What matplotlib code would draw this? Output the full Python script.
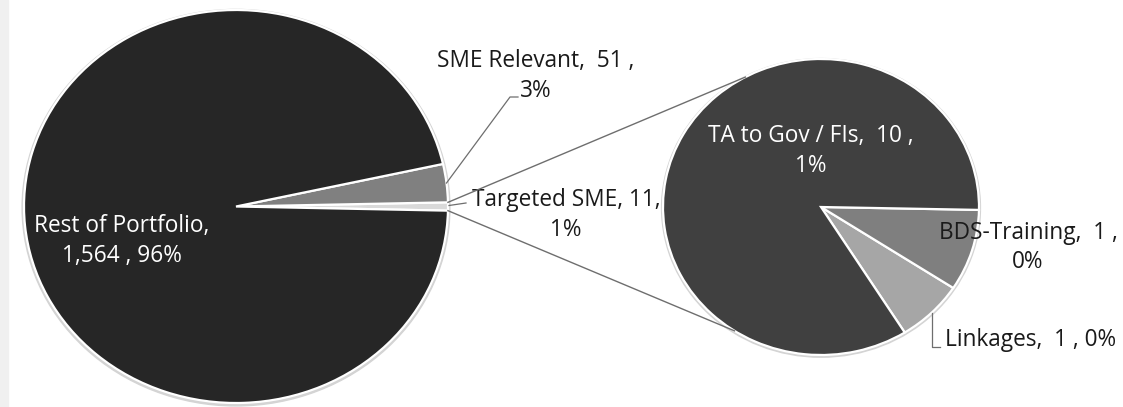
import numpy as np
import matplotlib
matplotlib.use("Agg")
import matplotlib.pyplot as plt
from matplotlib.patches import Ellipse, Rectangle

# ---- data ----
main_labels = ["Targeted SME", "SME Relevant", "Rest of Portfolio"]
main_values = [11, 51, 1564]
main_pct = ["1%", "3%", "96%"]
main_colors = ["#d9d9d9", "#808080", "#262626"]

sub_labels = ["Linkages", "BDS-Training", "TA to Gov / FIs"]
sub_values = [1, 1, 10]           # values shown in labels
sub_shares = [6.9, 8.9, 84.2]     # wedge shares (%)
sub_pct = ["0%", "0%", "1%"]
sub_colors = ["#a6a6a6", "#7f7f7f", "#404040"]

W, H = 1123, 407
fig = plt.figure(figsize=(W / 100, H / 100), dpi=100)
fig.patch.set_facecolor("white")
plt.rcParams["font.family"] = ["Open Sans", "DejaVu Sans"]

# pie geometry in pixels (center x, center y from top, rx, ry)
L = dict(cx=236, cy=206.5, rx=212, ry=196.5)
R = dict(cx=821, cy=207, rx=158, ry=148)


def pie(ax, sizes, colors, start):
    ax.add_patch(Ellipse((0.0, -0.006), 2.018, 2.018, color="#d4d4d4", zorder=0))
    ax.pie(sizes, colors=colors, startangle=start, counterclock=True,
           radius=1.0, wedgeprops=dict(edgecolor="white", linewidth=1.6))
    ax.set_aspect("auto")
    ax.set_xlim(-1.02, 1.02)
    ax.set_ylim(-1.02, 1.02)
    ax.axis("off")


def make_ax_pad(g, z, pad=1.02):
    ax = fig.add_axes([(g["cx"] - pad * g["rx"]) / W, (H - g["cy"] - pad * g["ry"]) / H,
                       2 * pad * g["rx"] / W, 2 * pad * g["ry"] / H], zorder=z)
    return ax


axL = make_ax_pad(L, 1)
tot = sum(main_values)
startL = -main_values[0] / tot * 360 / 2
pie(axL, main_values, main_colors, startL)

axR = make_ax_pad(R, 1)
pie(axR, sub_shares, sub_colors, -58.0)

# overlay in pixel coordinates
ov = fig.add_axes([0, 0, 1, 1], zorder=5)
ov.set_xlim(0, W)
ov.set_ylim(H, 0)
ov.axis("off")
ov.patch.set_alpha(0)
ov.add_patch(Rectangle((0, 0), 8, H, color="#f0f0f0", zorder=0))


def pt(g, ang, r=1.0):
    a = np.deg2rad(ang)
    return g["cx"] + r * g["rx"] * np.cos(a), g["cy"] - r * g["ry"] * np.sin(a)


# connector lines between pies
half = main_values[0] / tot * 360 / 2
for a1, a2 in [(half, 118.6), (-half, 236.8)]:
    x1, y1 = pt(L, a1)
    x2, y2 = pt(R, a2)
    ov.plot([x1, x2], [y1, y2], color="#6e6e6e", lw=1.0, zorder=6)

lc = "#6e6e6e"
fs = 16.3
ls = 1.33
tc = "#1a1a1a"
# SME Relevant label + leader
angS = startL + (main_values[0] + main_values[1] / 2) / tot * 360
x0, y0 = pt(L, angS)
ov.plot([x0, 510, 518], [y0, 97, 97], color=lc, lw=0.9)
ov.text(536, 76, f"SME Relevant,  {main_values[1]} ,\n{main_pct[1]}", ha="center",
        va="center", fontsize=fs, color=tc, linespacing=ls)
# Targeted SME
x0, y0 = pt(L, 0)
ov.plot([x0 + 1, 466], [y0 - 1, 203], color=lc, lw=0.9)
ov.text(566, 215, f"Targeted SME, {main_values[0]},\n{main_pct[0]}", ha="center",
        va="center", fontsize=fs, color=tc, linespacing=ls)
# Rest of Portfolio
ov.text(122, 241, f"Rest of Portfolio,\n{main_values[2]:,} , {main_pct[2]}", ha="center",
        va="center", fontsize=fs, color="white", linespacing=ls)
# TA
ov.text(811, 151, f"{sub_labels[2]},  {sub_values[2]} ,\n{sub_pct[2]}", ha="center",
        va="center", fontsize=fs, color="white", linespacing=ls)
# BDS
ov.text(1028, 247.5, f"{sub_labels[1]},  {sub_values[1]} ,\n{sub_pct[1]}", ha="center",
        va="center", fontsize=fs, color=tc, linespacing=ls)
# Linkages
angK = -58.0 + sub_shares[0] / sum(sub_shares) * 360 / 2
x0, y0 = pt(R, angK)
ov.plot([x0, x0, x0 + 8], [y0, 347, 347], color=lc, lw=0.9)
ov.text(1031, 340, f"{sub_labels[0]},  {sub_values[0]} , {sub_pct[0]}", ha="center",
        va="center", fontsize=fs, color=tc)

fig.savefig("out.png", dpi=100, facecolor="white")
